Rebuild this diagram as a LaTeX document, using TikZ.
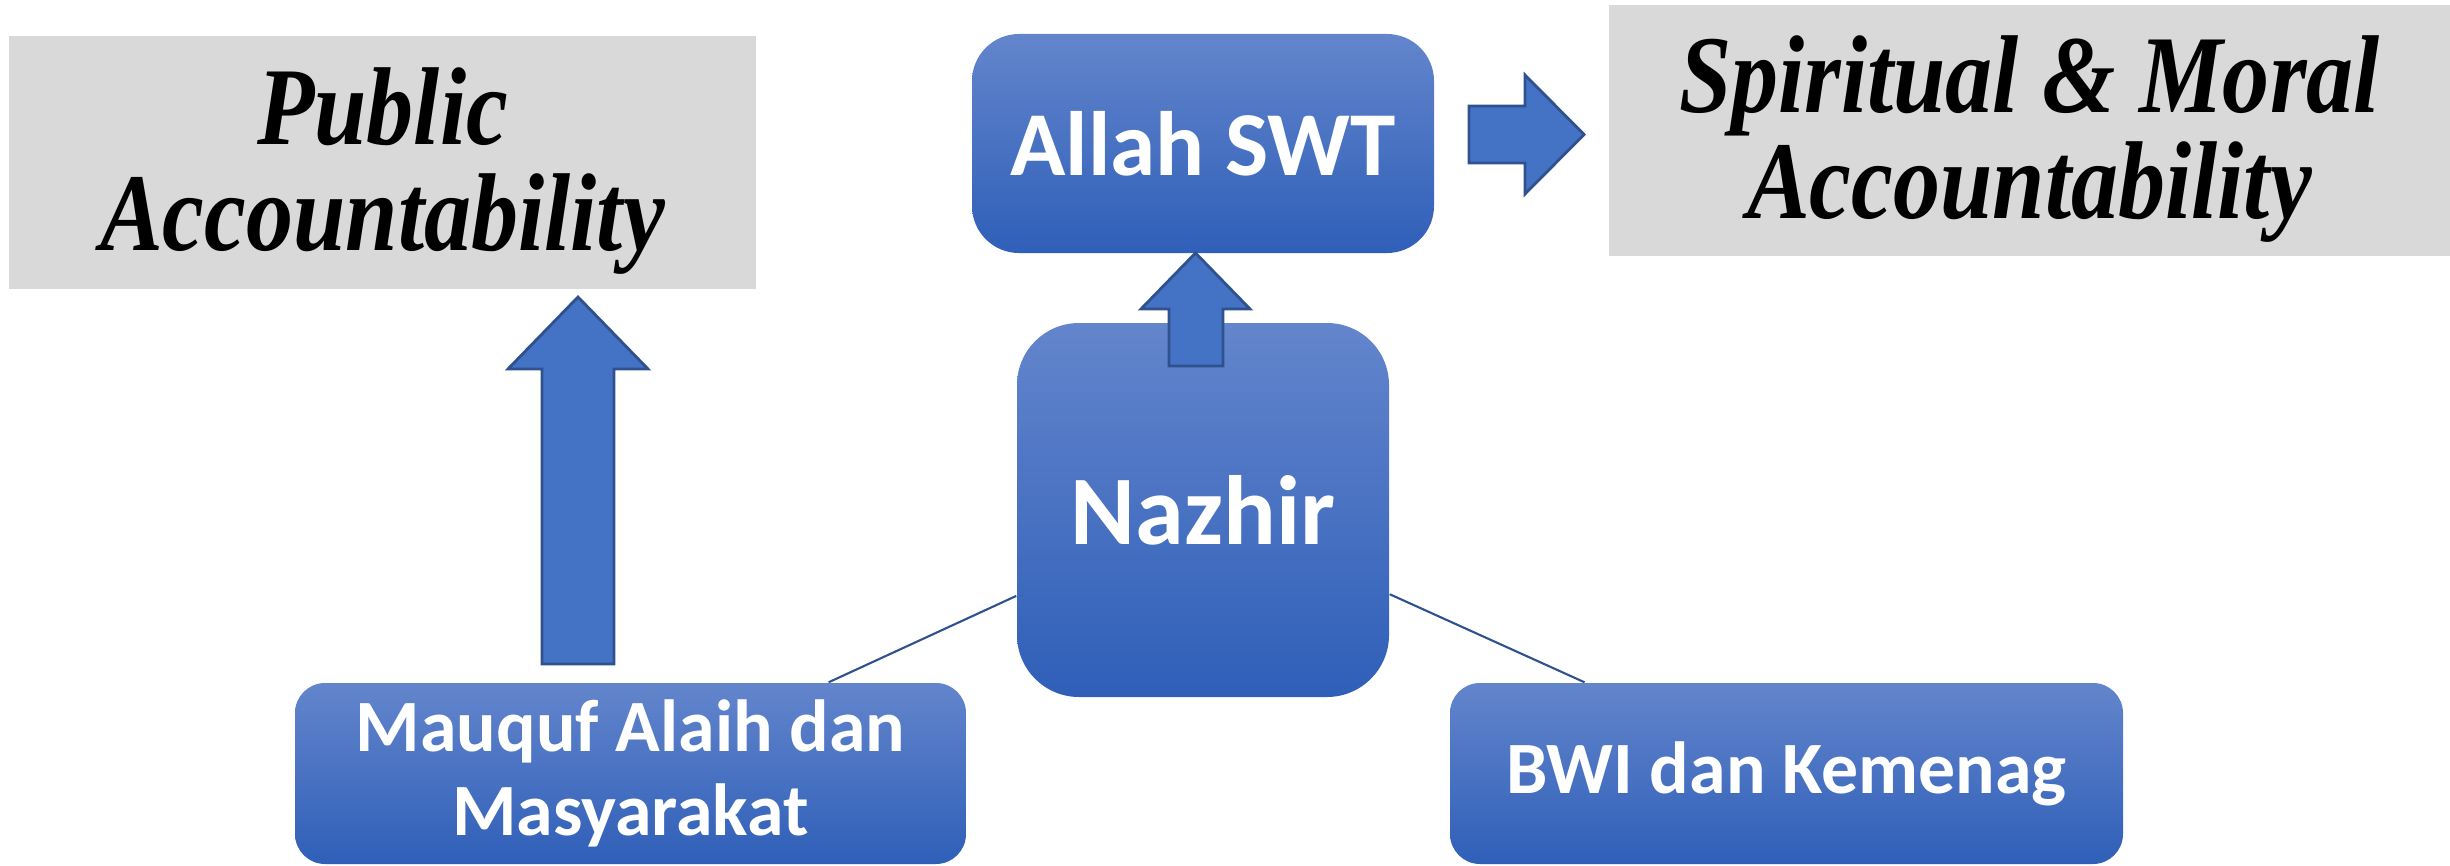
\documentclass[tikz,border=0pt]{standalone}
\usepackage{fontspec}
\setmainfont{Liberation Serif}
\newfontfamily\calibri{Carlito}
\newfontfamily\timescond[FakeStretch=0.85]{Liberation Serif}
\usepackage{tikz}
\usetikzlibrary{positioning}
\definecolor{boxtop}{HTML}{6385CC}
\definecolor{boxbot}{HTML}{2F5FB8}
\definecolor{arrowfill}{HTML}{4472C4}
\definecolor{arrowline}{HTML}{2F528F}
\definecolor{abugray}{HTML}{D9D9D9}
\tikzset{
    bluebox/.style = {rounded corners=#1, top color=boxtop, bottom color=boxbot,
        text=white, align=center, inner sep=0pt},
    graybox/.style = {fill=abugray, align=center, inner sep=0pt, text depth=2pt,
        font=\timescond\bfseries\itshape\fontsize{31.5}{30}\selectfont},
    blokpanah/.style = {fill=arrowfill, draw=arrowline, line width=0.8pt},
    garis/.style = {draw=arrowline, line width=0.6pt}
}

\begin{document}
\begin{tikzpicture}
    \useasboundingbox (0,0) rectangle (24.5,-8.66);
    % Kotak abu-abu
    \node[graybox, minimum width=7.47cm, minimum height=2.53cm] (public) at (3.825,-1.625) {Public\\Accountability};
    \node[graybox, minimum width=8.41cm, minimum height=2.51cm] (spiritual) at (20.295,-1.305) {Spiritual \& Moral\\Accountability};
    % Kotak biru
    \node[bluebox=0.47cm, minimum width=4.62cm, minimum height=2.19cm,
        font=\calibri\bfseries\fontsize{26}{30}\selectfont] (allah) at (12.03,-1.435) {Allah SWT};
    \node[bluebox=0.62cm, minimum width=3.72cm, minimum height=3.74cm,
        font=\calibri\bfseries\fontsize{28}{32}\selectfont] (nazhir) at (12.03,-5.10) {Nazhir};
    \node[bluebox=0.3cm, minimum width=6.71cm, minimum height=1.81cm,
        font=\calibri\bfseries\fontsize{21}{24}\selectfont] (mauquf) at (6.305,-7.735) {Mauquf Alaih dan\\Masyarakat};
    \node[bluebox=0.3cm, minimum width=6.73cm, minimum height=1.81cm,
        font=\calibri\bfseries\fontsize{21}{24}\selectfont] (bwi) at (17.865,-7.735) {BWI dan Kemenag};
    % Garis
    \draw[garis] (nazhir) -- (mauquf);
    \draw[garis] (nazhir) -- (bwi);
    % Panah blok
    \draw[blokpanah] (5.42,-6.64) -- (5.42,-3.69) -- (5.08,-3.69) -- (5.78,-2.97)
        -- (6.48,-3.69) -- (6.14,-3.69) -- (6.14,-6.64) -- cycle;
    \draw[blokpanah] (11.69,-3.66) -- (11.69,-3.09) -- (11.41,-3.09) -- (11.955,-2.53)
        -- (12.50,-3.09) -- (12.23,-3.09) -- (12.23,-3.66) -- cycle;
    \draw[blokpanah] (14.69,-1.06) -- (15.25,-1.06) -- (15.25,-0.75) -- (15.84,-1.345)
        -- (15.25,-1.94) -- (15.25,-1.63) -- (14.69,-1.63) -- cycle;
\end{tikzpicture}
\end{document}
